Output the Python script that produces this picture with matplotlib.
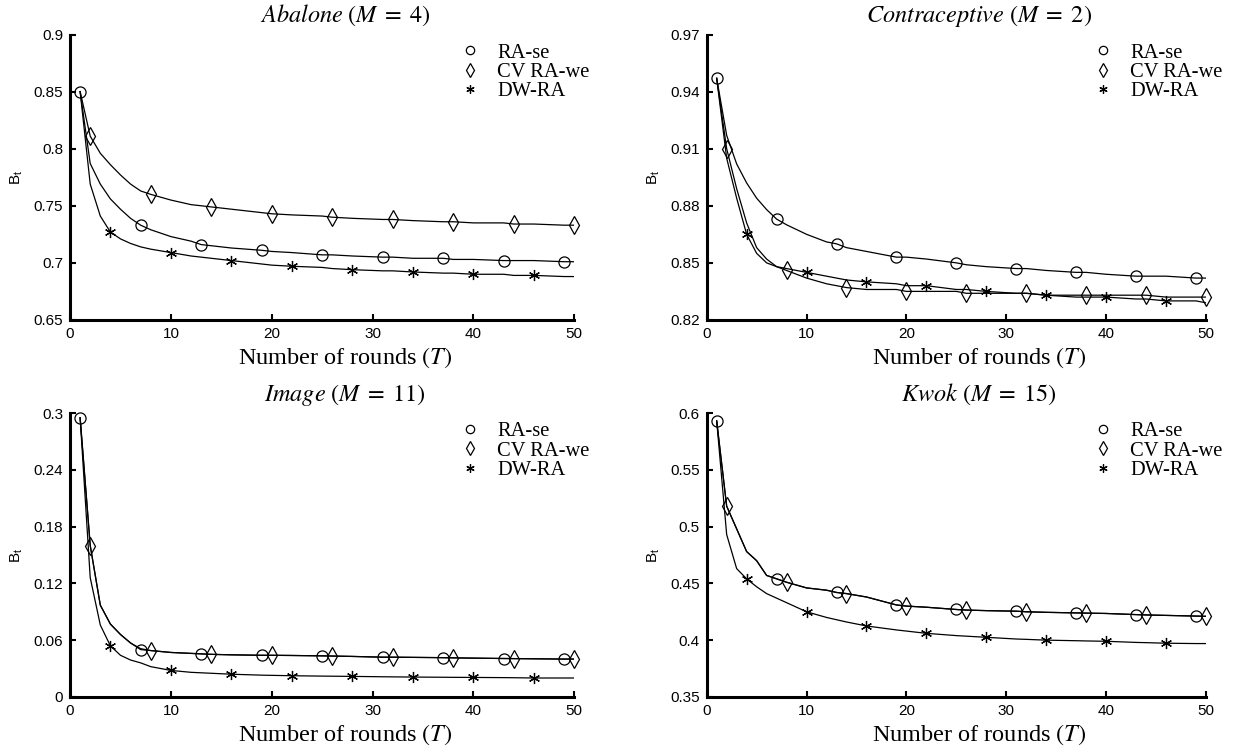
import matplotlib
matplotlib.use("Agg")
import matplotlib.pyplot as plt
import numpy as np

plt.rcParams["mathtext.fontset"] = "stix"

T = [1, 2, 3, 4, 5, 6, 7, 8, 10, 12, 13, 14, 16, 19, 20, 22, 25, 26, 28,
     31, 32, 34, 37, 38, 40, 43, 44, 46, 49, 50]

# rounds that carry a marker
ra_mark_T = [1, 7, 13, 19, 25, 31, 37, 43, 49]
cv_mark_T = [2, 8, 14, 20, 26, 32, 38, 44, 50]
dw_mark_T = [4, 10, 16, 22, 28, 34, 40, 46]

series_names = ["RA-se", "CV RA-we", "DW-RA"]

# Abalone (M = 4)
abalone_ra = [0.850, 0.787, 0.769, 0.756, 0.747, 0.739, 0.733, 0.729, 0.723, 0.719,
              0.716, 0.715, 0.713, 0.711, 0.710, 0.709, 0.707, 0.707, 0.706,
              0.705, 0.705, 0.704, 0.704, 0.703, 0.703, 0.702, 0.702, 0.702, 0.701, 0.701]
abalone_cv = [0.850, 0.811, 0.796, 0.786, 0.777, 0.769, 0.763, 0.760, 0.755, 0.751,
              0.750, 0.749, 0.747, 0.744, 0.743, 0.742, 0.741, 0.740, 0.739,
              0.738, 0.738, 0.737, 0.736, 0.736, 0.735, 0.735, 0.734, 0.734, 0.733, 0.733]
abalone_dw = [0.850, 0.769, 0.741, 0.727, 0.721, 0.717, 0.714, 0.712, 0.709, 0.706,
              0.705, 0.704, 0.702, 0.699, 0.698, 0.697, 0.696, 0.695, 0.694,
              0.693, 0.693, 0.692, 0.691, 0.691, 0.690, 0.690, 0.689, 0.689, 0.688, 0.688]

# Contraceptive (M = 2)
contra_ra = [0.947, 0.917, 0.902, 0.892, 0.884, 0.878, 0.873, 0.870, 0.865, 0.861,
             0.860, 0.858, 0.856, 0.853, 0.853, 0.852, 0.850, 0.849, 0.848,
             0.847, 0.847, 0.846, 0.845, 0.845, 0.844, 0.843, 0.843, 0.843, 0.842, 0.842]
contra_cv = [0.947, 0.910, 0.889, 0.871, 0.858, 0.852, 0.848, 0.846, 0.842, 0.839,
             0.838, 0.837, 0.836, 0.836, 0.835, 0.835, 0.835, 0.834, 0.834,
             0.834, 0.834, 0.833, 0.833, 0.833, 0.833, 0.833, 0.833, 0.832, 0.832, 0.832]
contra_dw = [0.947, 0.905, 0.884, 0.865, 0.855, 0.850, 0.848, 0.847, 0.845, 0.843,
             0.842, 0.841, 0.840, 0.839, 0.838, 0.838, 0.836, 0.836, 0.835,
             0.834, 0.834, 0.833, 0.832, 0.832, 0.832, 0.831, 0.831, 0.830, 0.830, 0.829]

# Image (M = 11)
image_ra = [0.295, 0.160, 0.097, 0.077, 0.066, 0.057, 0.050, 0.049, 0.047, 0.046,
            0.0455, 0.045, 0.0445, 0.044, 0.044, 0.0438, 0.0434, 0.0432, 0.0428,
            0.042, 0.042, 0.0418, 0.0415, 0.0413, 0.041, 0.0406, 0.0405, 0.0403, 0.040, 0.040]
image_cv = [0.295, 0.160, 0.097, 0.077, 0.066, 0.057, 0.051, 0.049, 0.047, 0.046,
            0.0455, 0.045, 0.0445, 0.044, 0.044, 0.0438, 0.0434, 0.0432, 0.0428,
            0.042, 0.042, 0.0418, 0.0415, 0.0413, 0.041, 0.0406, 0.0405, 0.0403, 0.040, 0.040]
image_dw = [0.295, 0.126, 0.076, 0.054, 0.044, 0.039, 0.036, 0.032, 0.028, 0.026,
            0.0255, 0.025, 0.024, 0.023, 0.0228, 0.0224, 0.022, 0.0219, 0.0217,
            0.0213, 0.0212, 0.021, 0.0208, 0.0207, 0.0206, 0.0204, 0.0203, 0.020, 0.020, 0.020]

# Kwok (M = 15)
kwok_ra = [0.593, 0.518, 0.498, 0.478, 0.470, 0.457, 0.454, 0.451, 0.446, 0.444,
           0.442, 0.441, 0.438, 0.431, 0.430, 0.429, 0.427, 0.4265, 0.426,
           0.4255, 0.425, 0.4245, 0.424, 0.4238, 0.4235, 0.4225, 0.4222, 0.4218, 0.4212, 0.421]
kwok_cv = [0.593, 0.518, 0.498, 0.478, 0.470, 0.457, 0.454, 0.451, 0.446, 0.444,
           0.442, 0.441, 0.438, 0.431, 0.430, 0.429, 0.427, 0.4265, 0.426,
           0.4255, 0.425, 0.4245, 0.424, 0.4238, 0.4235, 0.4225, 0.4222, 0.4218, 0.4212, 0.421]
kwok_dw = [0.593, 0.493, 0.463, 0.454, 0.447, 0.441, 0.437, 0.433, 0.425, 0.420,
           0.418, 0.416, 0.4125, 0.409, 0.408, 0.406, 0.404, 0.4035, 0.4025,
           0.401, 0.4007, 0.400, 0.3995, 0.3993, 0.399, 0.398, 0.3978, 0.3973, 0.397, 0.397]

panels = [
    (r"$\mathit{Abalone}\ (M\;=\;4)$", (0.65, 0.9), [0.65, 0.7, 0.75, 0.8, 0.85, 0.9],
     abalone_ra, abalone_cv, abalone_dw, [0.0564, 0.574, 0.406, 0.380]),
    (r"$\mathit{Contraceptive}\ (M\;=\;2)$", (0.82, 0.97), [0.82, 0.85, 0.88, 0.91, 0.94, 0.97],
     contra_ra, contra_cv, contra_dw, [0.569, 0.574, 0.402, 0.380]),
    (r"$\mathit{Image}\ (M\;=\;11)$", (0, 0.3), [0, 0.06, 0.12, 0.18, 0.24, 0.3],
     image_ra, image_cv, image_dw, [0.0564, 0.072, 0.406, 0.378]),
    (r"$\mathit{Kwok}\ (M\;=\;15)$", (0.35, 0.6), [0.35, 0.4, 0.45, 0.5, 0.55, 0.6],
     kwok_ra, kwok_cv, kwok_dw, [0.569, 0.072, 0.402, 0.378]),
]

markers = [
    dict(marker="o", markersize=8, markeredgewidth=0.9),
    dict(marker="d", markersize=9, markeredgewidth=0.9),
    dict(marker=(6, 2, 0), markersize=8, markeredgewidth=0.9),
]
mark_T = [ra_mark_T, cv_mark_T, dw_mark_T]

fig = plt.figure(figsize=(12.42, 7.51), dpi=100)
fig.patch.set_facecolor("white")

t_arr = np.array(T)
for title, ylim, yticks, ra, cv, dw, pos in panels:
    ax = fig.add_axes(pos)
    for vals, name, mk, mt in zip([ra, cv, dw], series_names, markers, mark_T):
        vals = np.array(vals)
        ax.plot(t_arr, vals, color="black", linewidth=0.9)
        sel = np.isin(t_arr, mt)
        ax.plot(t_arr[sel], vals[sel], linestyle="none", color="black",
                markerfacecolor="none", label=name, clip_on=False, **mk)

    ax.set_xlim(0, 50)
    ax.set_ylim(*ylim)
    ax.set_xticks([0, 10, 20, 30, 40, 50])
    ax.set_yticks(yticks)
    ax.set_yticklabels(["%g" % v for v in yticks])
    for lab in ax.get_xticklabels() + ax.get_yticklabels():
        lab.set_family("Liberation Sans")
        lab.set_fontsize(11)
    ax.tick_params(direction="in", length=4, width=1.5, pad=5)

    ax.spines["top"].set_visible(False)
    ax.spines["right"].set_visible(False)
    ax.spines["left"].set_linewidth(2.2)
    ax.spines["bottom"].set_linewidth(2.2)

    ax.set_title(title, fontsize=17.5, family="Liberation Serif", pad=9, x=0.545)
    ax.set_xlabel(r"Number of rounds $(T)$", fontsize=17.5,
                  family="Liberation Serif", labelpad=3)
    ax.xaxis.label.set_x(0.545)
    ax.set_ylabel(r"B$_\mathregular{t}$", fontsize=11,
                  family="Liberation Sans", labelpad=6)

    ax.legend(loc="upper left", bbox_to_anchor=(0.745, 1.02), frameon=False,
              prop={"family": "Liberation Serif", "size": 14.8},
              handletextpad=0.8, labelspacing=0.0, borderaxespad=0.3,
              handlelength=1.0, markerscale=0.75)

fig.savefig("out.png", dpi=100, facecolor="white")
